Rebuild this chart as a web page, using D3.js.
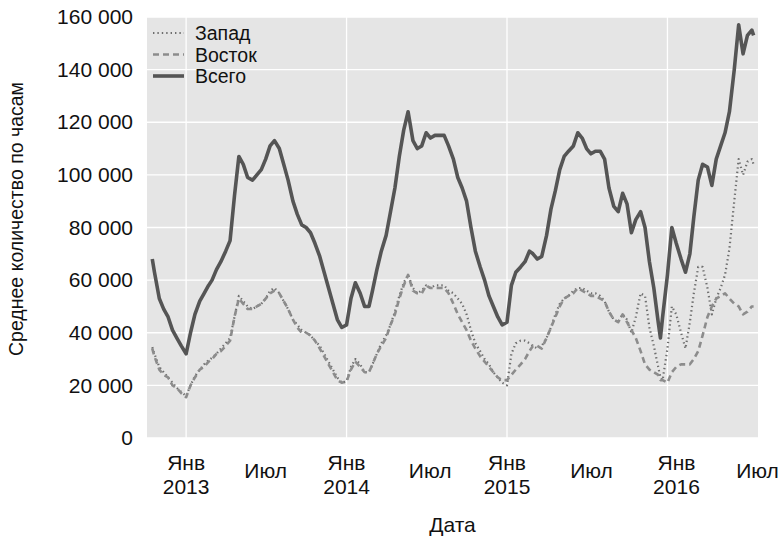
<!DOCTYPE html>
<html>
<head>
<meta charset="utf-8">
<script src="https://cdn.jsdelivr.net/npm/d3@7"></script>
<style>
  body { margin: 0; background: #ffffff; }
  svg { display: block; font-family: "Liberation Sans", Arial, Helvetica, sans-serif; }
</style>
</head>
<body>
<svg id="chart" width="782" height="540"></svg>
<script>
// 30-day rolling totals of bicycle counts, sampled roughly every ten days
const dates = [
  "2012-10-16","2012-10-21","2012-11-01","2012-11-11","2012-11-21","2012-12-01","2012-12-11","2012-12-21",
  "2013-01-01","2013-01-11","2013-01-21","2013-02-01","2013-02-11","2013-02-21","2013-03-01","2013-03-11","2013-03-21",
  "2013-04-01","2013-04-11","2013-04-21","2013-05-01","2013-05-11","2013-05-21","2013-06-01","2013-06-11","2013-06-21",
  "2013-07-01","2013-07-11","2013-07-21","2013-08-01","2013-08-11","2013-08-21","2013-09-01","2013-09-11","2013-09-21",
  "2013-10-01","2013-10-11","2013-10-21","2013-11-01","2013-11-11","2013-11-21","2013-12-01","2013-12-11","2013-12-21",
  "2014-01-01","2014-01-11","2014-01-21","2014-02-01","2014-02-11","2014-02-21","2014-03-01","2014-03-11","2014-03-21",
  "2014-04-01","2014-04-11","2014-04-21","2014-05-01","2014-05-11","2014-05-21","2014-06-01","2014-06-11","2014-06-21",
  "2014-07-01","2014-07-11","2014-07-21","2014-08-01","2014-08-11","2014-08-21","2014-09-01","2014-09-11","2014-09-21",
  "2014-10-01","2014-10-11","2014-10-21","2014-11-01","2014-11-11","2014-11-21","2014-12-01","2014-12-11","2014-12-21",
  "2015-01-01","2015-01-11","2015-01-21","2015-02-01","2015-02-11","2015-02-21","2015-03-01","2015-03-11","2015-03-21",
  "2015-04-01","2015-04-11","2015-04-21","2015-05-01","2015-05-11","2015-05-21","2015-06-01","2015-06-11","2015-06-21",
  "2015-07-01","2015-07-11","2015-07-21","2015-08-01","2015-08-11","2015-08-21","2015-09-01","2015-09-11","2015-09-21",
  "2015-10-01","2015-10-11","2015-10-21","2015-11-01","2015-11-11","2015-11-21","2015-12-01","2015-12-11","2015-12-16","2015-12-21",
  "2016-01-01","2016-01-11","2016-01-21","2016-02-01","2016-02-11","2016-02-21","2016-03-01","2016-03-11","2016-03-21",
  "2016-04-01","2016-04-11","2016-04-21","2016-05-01","2016-05-11","2016-05-21","2016-06-01","2016-06-11","2016-06-21",
  "2016-07-01","2016-07-11","2016-07-15"
];

const west = [
  34500,32000,27000,25000,23000,21000,19000,17500,
  16000,20000,23500,26000,28000,29500,30500,32000,34000,
  36000,38000,46000,54000,52000,50000,49000,50000,51000,
  53000,56000,57000,55000,52000,49000,45000,43000,41000,
  40000,39000,37000,35000,32000,29000,26000,23000,21000,
  21500,27000,30000,28000,25000,25000,28000,32000,36000,
  39000,43000,48000,54000,59000,62000,57000,55000,56000,
  58000,57000,58000,58000,58000,56000,55000,53000,51000,
  47000,41000,36000,33000,30000,28000,25000,23000,21000,
  20000,32000,36000,37000,37000,36000,35000,34000,35000,
  38000,42000,47000,51000,53000,54000,56000,57000,57000,
  56000,55000,55000,54000,52000,48000,45000,44000,47000,
  45000,40000,46000,55000,54000,42000,35000,27000,23000,22000,
  34000,50000,47000,40000,34000,44000,55000,65000,65000,
  57000,47000,53000,57000,62000,72000,90000,106000,100000,
  105000,106000,104000
];

const east = [
  34000,31000,26000,24000,23000,20000,19000,17000,
  15500,20000,23000,26000,27000,29000,30000,32000,33000,
  35000,37000,46000,53000,51000,49000,49000,50000,51000,
  53000,55000,56000,55000,52000,49000,45000,42000,40000,
  40000,39000,37000,34000,31000,28000,25000,22000,21000,
  21500,26000,29000,27000,25000,25000,28000,32000,35000,
  38000,43000,47000,53000,58000,62000,56000,55000,55000,
  58000,57000,57000,57000,57000,55000,51000,47000,44000,
  41000,37000,34000,31000,29000,27000,25000,23000,22000,
  22000,24000,26000,28000,30000,33000,35000,35000,34000,
  38000,42000,46000,50000,53000,54000,55000,57000,56000,
  55000,54000,54000,53000,52000,48000,45000,44000,47000,
  44000,41000,38000,33000,28000,26000,25000,24000,22000,22000,
  21000,25000,27000,28000,28000,28000,30000,33000,39000,
  46000,50000,53000,54000,55000,53000,51000,50000,47000,
  48000,50000,50000
];

const total = [
  68000,63000,53000,49000,46000,41000,38000,35000,
  32000,40000,47000,52000,55000,58000,60000,64000,67000,
  71000,75000,92000,107000,104000,99000,98000,100000,102000,
  106000,111000,113000,110000,104000,98000,90000,85000,81000,
  80000,78000,74000,69000,63000,57000,51000,45000,42000,
  43000,53000,59000,55000,50000,50000,56000,64000,71000,
  77000,86000,95000,107000,117000,124000,113000,110000,111000,
  116000,114000,115000,115000,115000,111000,106000,99000,95000,
  90000,80000,71000,65000,60000,54000,50000,46000,43000,
  44000,58000,63000,65000,67000,71000,70000,68000,69000,
  77000,87000,94000,102000,107000,109000,111000,116000,114000,
  110000,108000,109000,109000,106000,95000,88000,86000,93000,
  89000,78000,83000,86000,80000,67000,57000,44000,38000,46000,
  62000,80000,74000,68000,63000,70000,84000,98000,104000,
  103000,96000,106000,111000,116000,124000,140000,157000,146000,
  153000,155000,153000
];

const seriesNames = ["Запад", "Восток", "Всего"];
const yTicks = [0, 20000, 40000, 60000, 80000, 100000, 120000, 140000, 160000];
const janTicks = ["2013-01-01", "2014-01-01", "2015-01-01", "2016-01-01"];
const janLabels = [["Янв", "2013"], ["Янв", "2014"], ["Янв", "2015"], ["Янв", "2016"]];
const julTicks = ["2013-07-01", "2014-07-01", "2015-07-01", "2016-07-01"];
const julLabel = "Июл";
const xDomain = ["2012-10-04", "2016-07-25"];
const yTitle = "Среднее количество по часам";
const xTitle = "Дата";

const W = 782, H = 540;
const margin = { top: 17, right: 24, bottom: 102, left: 147 };
const iw = W - margin.left - margin.right;
const ih = H - margin.top - margin.bottom;
const fs = 21;
// small horizontal nudges for the tick captions under the axis
const janNudge = [0, 0, 0, 9];
const julNudge = [0, 4, 5, 10];

const parse = d3.utcParse("%Y-%m-%d");
const svg = d3.select("#chart");
const g = svg.append("g").attr("transform", `translate(${margin.left},${margin.top})`);

const x = d3.scaleUtc().domain(xDomain.map(parse)).range([0, iw]);
const y = d3.scaleLinear().domain([0, 160000]).range([ih, 0]);

const fmt = d3.formatLocale({ decimal: ",", thousands: " ", grouping: [3], currency: ["", ""] }).format(",d");

// panel
g.append("rect").attr("width", iw).attr("height", ih).attr("fill", "#e5e5e5");

// grid
g.append("g").selectAll("line").data(yTicks).join("line")
  .attr("x1", 0).attr("x2", iw)
  .attr("y1", d => y(d)).attr("y2", d => y(d))
  .attr("stroke", "#ffffff").attr("stroke-width", 1.3);
g.append("g").selectAll("line").data(janTicks.map(parse)).join("line")
  .attr("x1", d => x(d)).attr("x2", d => x(d))
  .attr("y1", 0).attr("y2", ih)
  .attr("stroke", "#ffffff").attr("stroke-width", 1.3);

// y axis labels
const yAxis = g.append("g")
  .call(d3.axisLeft(y).tickValues(yTicks).tickFormat(fmt).tickSize(0).tickPadding(14));
yAxis.select(".domain").remove();
yAxis.selectAll("text").attr("font-size", fs).attr("fill", "#111").attr("font-family", null);

// x axis labels: January ticks carry the year on a second line
const xAxis = g.append("g").attr("transform", `translate(0,${ih})`);
const janG = xAxis.selectAll("g.jan").data(janTicks.map(parse)).join("g")
  .attr("class", "jan").attr("transform", (d, i) => `translate(${x(d) + janNudge[i]},0)`);
janG.append("text").attr("y", 32).attr("text-anchor", "middle")
  .attr("font-size", fs).attr("fill", "#111").text((d, i) => janLabels[i][0]);
janG.append("text").attr("y", 56).attr("text-anchor", "middle")
  .attr("font-size", fs).attr("fill", "#111").text((d, i) => janLabels[i][1]);
xAxis.selectAll("text.jul").data(julTicks.map(parse)).join("text")
  .attr("class", "jul").attr("x", (d, i) => x(d) + julNudge[i]).attr("y", 40).attr("text-anchor", "middle")
  .attr("font-size", fs).attr("fill", "#111").text(julLabel);

// titles
svg.append("text").attr("transform", `translate(23,219) rotate(-90)`)
  .attr("text-anchor", "middle").attr("font-size", 19.5).attr("fill", "#111").text(yTitle);
svg.append("text").attr("x", margin.left + iw / 2).attr("y", 532)
  .attr("text-anchor", "middle").attr("font-size", fs).attr("fill", "#111").text(xTitle);

// series
const styles = [
  { values: west,  stroke: "#6e6e6e", width: 2.2, dash: "1.4,3" },
  { values: east,  stroke: "#8c8c8c", width: 2.6, dash: "6,4" },
  { values: total, stroke: "#555555", width: 3.6, dash: null }
];
const dts = dates.map(parse);
const line = d3.line().x(d => x(d[0])).y(d => y(d[1]));

styles.forEach(s => {
  g.append("path")
    .datum(dts.map((d, i) => [d, s.values[i]]))
    .attr("d", line)
    .attr("fill", "none")
    .attr("stroke", s.stroke)
    .attr("stroke-width", s.width)
    .attr("stroke-linejoin", "round")
    .attr("stroke-dasharray", s.dash);
});

// legend
const leg = g.append("g").attr("transform", "translate(6,16)");
styles.forEach((s, i) => {
  const row = leg.append("g").attr("transform", `translate(0,${i * 21.5})`);
  row.append("line").attr("x1", 0).attr("x2", 31).attr("y1", 0).attr("y2", 0)
    .attr("stroke", s.stroke).attr("stroke-width", s.width).attr("stroke-dasharray", s.dash);
  row.append("text").attr("x", 42).attr("y", 7).attr("font-size", 19.5).attr("fill", "#111")
    .text(seriesNames[i]);
});
</script>
</body>
</html>
